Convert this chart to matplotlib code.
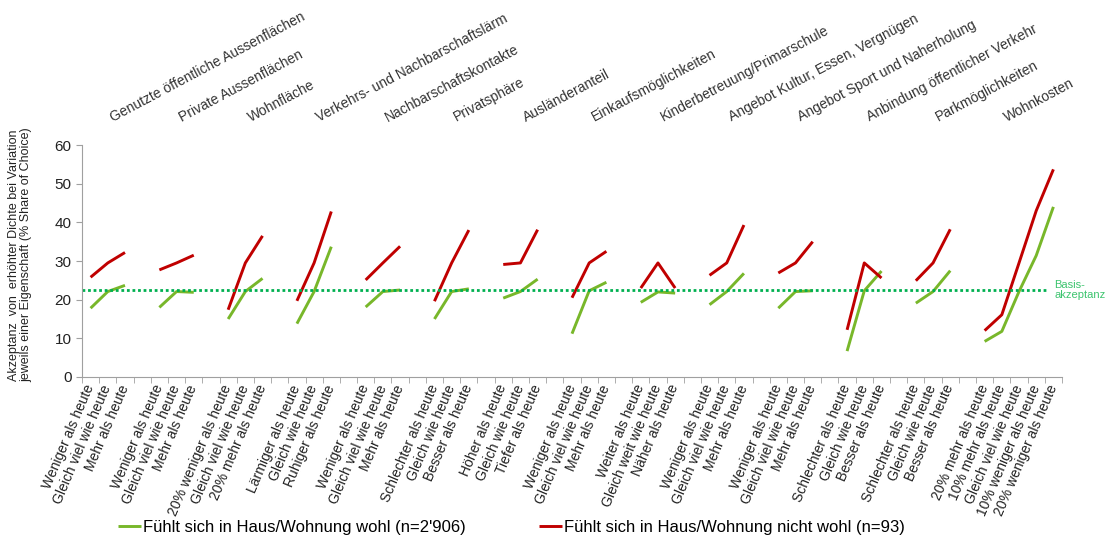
import numpy as np
import matplotlib.pyplot as plt
from matplotlib import transforms

plt.rcParams['font.family'] = ['Liberation Sans', 'DejaVu Sans']

groups = ['Genutzte öffentliche Aussenflächen', 'Private Aussenflächen', 'Wohnfläche',
          'Verkehrs- und Nachbarschaftslärm', 'Nachbarschaftskontakte', 'Privatsphäre',
          'Ausländeranteil', 'Einkaufsmöglichkeiten', 'Kinderbetreuung/Primarschule',
          'Angebot Kultur, Essen, Vergnügen', 'Angebot Sport und Naherholung',
          'Anbindung öffentlicher Verkehr', 'Parkmöglichkeiten', 'Wohnkosten']

levels = [
    ['Weniger als heute', 'Gleich viel wie heute', 'Mehr als heute'],
    ['Weniger als heute', 'Gleich viel wie heute', 'Mehr als heute'],
    ['20% weniger als heute', 'Gleich viel wie heute', '20% mehr als heute'],
    ['Lärmiger als heute', 'Gleich wie heute', 'Ruhiger als heute'],
    ['Weniger als heute', 'Gleich viel wie heute', 'Mehr als heute'],
    ['Schlechter als heute', 'Gleich wie heute', 'Besser als heute'],
    ['Höher als heute', 'Gleich wie heute', 'Tiefer als heute'],
    ['Weniger als heute', 'Gleich viel wie heute', 'Mehr als heute'],
    ['Weiter als heute', 'Gleich weit wie heute', 'Näher als heute'],
    ['Weniger als heute', 'Gleich viel wie heute', 'Mehr als heute'],
    ['Weniger als heute', 'Gleich viel wie heute', 'Mehr als heute'],
    ['Schlechter als heute', 'Gleich wie heute', 'Besser als heute'],
    ['Schlechter als heute', 'Gleich wie heute', 'Besser als heute'],
    ['20% mehr als heute', '10% mehr als heute', 'Gleich viel wie heute',
     '10% weniger als heute', '20% weniger als heute'],
]

# Fühlt sich wohl (n=2'906)
wohl = [
    [17.8, 22.1, 23.7],
    [18.0, 22.1, 21.9],
    [15.0, 22.1, 25.5],
    [13.8, 22.1, 33.7],
    [18.1, 22.1, 22.5],
    [15.0, 22.1, 22.8],
    [20.4, 22.1, 25.3],
    [11.2, 22.3, 24.5],
    [19.3, 22.0, 21.7],
    [18.7, 22.1, 26.8],
    [17.8, 22.1, 22.3],
    [6.7, 22.3, 27.4],
    [19.1, 22.1, 27.5],
    [9.2, 11.8, 22.1, 31.4, 44.0],
]

# Fühlt sich nicht wohl (n=93)
nicht_wohl = [
    [25.8, 29.5, 32.2],
    [27.7, 29.5, 31.5],
    [17.4, 29.5, 36.5],
    [19.7, 29.5, 42.8],
    [25.1, 29.5, 33.8],
    [19.6, 29.5, 38.0],
    [29.1, 29.5, 38.1],
    [20.5, 29.5, 32.5],
    [23.0, 29.5, 23.0],
    [26.3, 29.5, 39.3],
    [26.9, 29.5, 35.0],
    [12.2, 29.5, 25.6],
    [24.9, 29.5, 38.2],
    [12.0, 16.1, 29.5, 43.0, 53.7],
]

basis = 22.5

green = '#78B72A'
red = '#C00000'

fig = plt.figure(figsize=(11.15, 5.4), dpi=100)
ax = fig.add_axes([82 / 1115, 1 - 377 / 540, 980 / 1115, 232 / 540])

tick_pos = []
tick_lab = []
pos = 0
starts = []
for i, labs in enumerate(levels):
    xs = np.arange(pos, pos + len(labs))
    starts.append(pos)
    ax.plot(xs, wohl[i], color=green, lw=2.1, solid_capstyle='butt',
            label="Fühlt sich in Haus/Wohnung wohl (n=2'906)" if i == 0 else None)
    ax.plot(xs, nicht_wohl[i], color=red, lw=2.1, solid_capstyle='butt',
            label='Fühlt sich in Haus/Wohnung nicht wohl (n=93)' if i == 0 else None)
    tick_pos.extend(xs)
    tick_lab.extend(labs)
    pos += len(labs) + 1
n_slots = pos - 1

ax.axhline(basis, xmin=0, xmax=0.985, color='#00B050', lw=2.0, ls=(0, (1, 1.0)))
ax.text(n_slots - 0.95, basis, 'Basis-\nakzeptanz', color='#3CC46E', fontsize=8,
        va='center', ha='left', linespacing=1.1, clip_on=False)

ax.set_xlim(-0.5, n_slots - 0.5)
ax.set_ylim(0, 60)
ax.set_yticks(np.arange(0, 61, 10))
ax.tick_params(axis='y', labelsize=11, length=4, color='#A0A0A0', labelcolor='#222222')

ax.set_xticks(tick_pos)
ax.set_xticklabels(tick_lab, fontsize=10, color='#222222')
ax.set_xticks(np.arange(-0.5, n_slots, 1), minor=True)
ax.tick_params(axis='x', which='major', length=0, pad=6)
ax.tick_params(axis='x', which='minor', length=4, color='#A0A0A0')
for lab in ax.get_xticklabels():
    lab.set_rotation(67)
    lab.set_rotation_mode('anchor')
    lab.set_ha('right')
    lab.set_va('center')

for s in ['top', 'right']:
    ax.spines[s].set_visible(False)
for s in ['left', 'bottom']:
    ax.spines[s].set_color('#A0A0A0')

trans = transforms.blended_transform_factory(ax.transData, ax.transAxes)
for st, name in zip(starts, groups):
    ax.text(st + 1.3, 1.10, name, rotation=28, rotation_mode='anchor',
            ha='left', va='baseline', fontsize=10, color='#333333',
            transform=trans, clip_on=False)

fig.text(20 / 1115, 1 - 255 / 540,
         'Akzeptanz  von  erhöhter Dichte bei Variation\njeweils einer Eigenschaft (% Share of Choice)',
         rotation=90, ha='center', va='center', fontsize=9, color='#222222',
         linespacing=1.05, multialignment='center')

fig.legend(loc='lower left', bbox_to_anchor=(118 / 1115, 5 / 540), ncol=2,
           frameon=False, fontsize=12, handlelength=1.4, handletextpad=0.1,
           columnspacing=4.4, borderpad=0, borderaxespad=0)

fig.savefig('out.png', dpi=100)
